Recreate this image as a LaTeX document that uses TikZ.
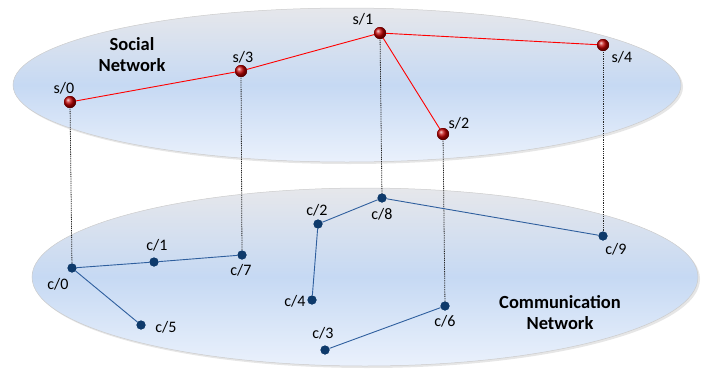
\documentclass[tikz,border=0pt]{standalone}
\usepackage{fontspec}
\setmainfont{Carlito}
\usetikzlibrary{shadows}
\definecolor{plane}{HTML}{C6D9F3}
\definecolor{planetop}{HTML}{E6E7EB}
\definecolor{planebot}{HTML}{EAF1FC}
\definecolor{cnode}{HTML}{0E3A6B}
\definecolor{cedge}{HTML}{2F5F9E}
\definecolor{sred}{HTML}{C00000}
\tikzset{
  planeshape/.style={draw=gray!40, line width=0.5pt, top color=planetop, bottom color=planebot, middle color=plane, drop shadow={opacity=0.2, shadow xshift=2pt, shadow yshift=-2pt}},
  snode/.style={circle, minimum size=12pt, inner sep=0pt, ball color=sred},
  cnodest/.style={circle, minimum size=9pt, inner sep=0pt, fill=cnode},
  lbl/.style={font=\fontsize{16}{18}\selectfont, inner sep=0pt},
  title/.style={font=\bfseries\fontsize{18.5}{21}\selectfont, align=center, inner sep=0pt},
  sedge/.style={red, line width=0.9pt},
  cedgest/.style={cedge, line width=0.9pt},
  link/.style={black!85, dash pattern=on 1pt off 0.8pt, line width=0.8pt}
}
\begin{document}
\begin{tikzpicture}[x=1pt,y=-1pt]
\useasboundingbox (0,0) rectangle (705,370);
% planes
\path[planeshape] (347,85) ellipse [x radius=334, y radius=77];
\path[planeshape] (365,277) ellipse [x radius=333, y radius=89];
% titles
\node[title] (tsoc) at (132,55) {Social\\Network};
\node[title] (tcom) at (560,313) {Communication\\Network};
% social nodes
\node[snode] (s0) at (70,102) {};
\node[snode] (s3) at (241,71) {};
\node[snode] (s1) at (380,33) {};
\node[snode] (s4) at (603,45) {};
\node[snode] (s2) at (443,134) {};
% communication nodes
\node[cnodest] (c0) at (72,268) {};
\node[cnodest] (c1) at (154,262) {};
\node[cnodest] (c7) at (242,255) {};
\node[cnodest] (c5) at (141,325) {};
\node[cnodest] (c2) at (318,224) {};
\node[cnodest] (c4) at (312,300) {};
\node[cnodest] (c3) at (325,350) {};
\node[cnodest] (c8) at (382,198) {};
\node[cnodest] (c9) at (603,236) {};
\node[cnodest] (c6) at (445,306) {};
% inter-layer links
\draw[link] (s0.center) -- (c0.center);
\draw[link] (s3.center) -- (c7.center);
\draw[link] (s1.center) -- (c8.center);
\draw[link] (s2.center) -- (c6.center);
\draw[link] (s4.center) -- (c9.center);
% social edges
\draw[sedge] (s0) -- (s3);
\draw[sedge] (s3) -- (s1);
\draw[sedge] (s1) -- (s4);
\draw[sedge] (s1) -- (s2);
% communication edges
\draw[cedgest] (c0) -- (c1);
\draw[cedgest] (c1) -- (c7);
\draw[cedgest] (c0) -- (c5);
\draw[cedgest] (c2) -- (c8);
\draw[cedgest] (c2) -- (c4);
\draw[cedgest] (c8) -- (c9);
\draw[cedgest] (c3) -- (c6);
% redraw nodes on top
\foreach \n in {s0,s1,s2,s3,s4}{\node[snode] at (\n) {};}
\foreach \n in {c0,c1,c2,c3,c4,c5,c6,c7,c8,c9}{\node[cnodest] at (\n) {};}
% labels
\node[lbl] (ls0) at (64,88) {s/0};
\node[lbl] (ls3) at (243,57) {s/3};
\node[lbl] (ls1) at (363,19) {s/1};
\node[lbl] (ls4) at (622,57) {s/4};
\node[lbl] (ls2) at (459,123) {s/2};
\node[lbl] (lc0) at (58,284) {c/0};
\node[lbl] (lc1) at (157,245) {c/1};
\node[lbl] (lc7) at (241,270) {c/7};
\node[lbl] (lc5) at (166,327) {c/5};
\node[lbl] (lc2) at (317,210) {c/2};
\node[lbl] (lc4) at (295,301) {c/4};
\node[lbl] (lc3) at (323,333) {c/3};
\node[lbl] (lc8) at (382,214) {c/8};
\node[lbl] (lc9) at (616,249) {c/9};
\node[lbl] (lc6) at (445,321) {c/6};
\end{tikzpicture}
\end{document}
